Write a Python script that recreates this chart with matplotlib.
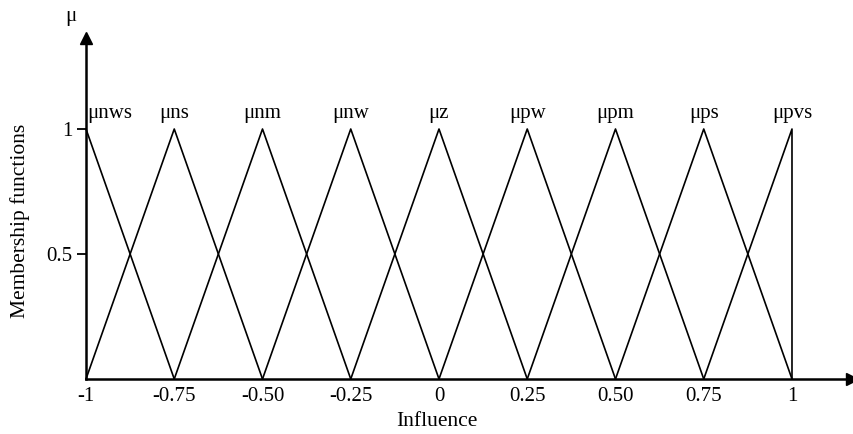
import matplotlib
matplotlib.use("Agg")
import matplotlib.pyplot as plt
import numpy as np

plt.rcParams['font.family'] = ['Liberation Serif', 'DejaVu Serif']

# Data
centers = [-1, -0.75, -0.50, -0.25, 0, 0.25, 0.50, 0.75, 1]
set_names = ['μnws', 'μns', 'μnm', 'μnw', 'μz', 'μpw', 'μpm', 'μps', 'μpvs']
x_tick_vals = [-1, -0.75, -0.50, -0.25, 0, 0.25, 0.50, 0.75, 1]
x_tick_labels = ['-1', '-0.75', '-0.50', '-0.25', '0', '0.25', '0.50', '0.75', '1']
y_tick_vals = [0.5, 1]
y_tick_labels = ['0.5', '1']

W, H = 854, 434
fig = plt.figure(figsize=(W / 100, H / 100), dpi=100)
left, right, bottom, top = 86, 852, 379, 38
ax = fig.add_axes([left / W, (H - bottom) / H, (right - left) / W, (bottom - top) / H])

xmin, xmax = -1, 1.17
ymin, ymax = 0, 1.364
ax.set_xlim(xmin, xmax)
ax.set_ylim(ymin, ymax)

FS = 15
n = len(centers)
for i, c in enumerate(centers):
    if i == 0:
        xs, ys = [c, centers[i + 1]], [1, 0]
    elif i == n - 1:
        xs, ys = [centers[i - 1], c, c], [0, 1, 0]
    else:
        xs, ys = [centers[i - 1], c, centers[i + 1]], [0, 1, 0]
    ax.plot(xs, ys, color='black', lw=1.2, clip_on=False)
    ha = 'left' if i == 0 else 'center'
    xt = c + 0.003 if i == 0 else c
    ax.text(xt, 1.044, set_names[i], ha=ha, va='baseline', fontsize=FS)

for s in ['top', 'right']:
    ax.spines[s].set_visible(False)
for s in ['left', 'bottom']:
    ax.spines[s].set_linewidth(1.8)
    ax.spines[s].set_color('black')

ax.set_xticks(x_tick_vals)
ax.set_xticklabels(x_tick_labels, fontsize=FS)
ax.set_yticks(y_tick_vals)
ax.set_yticklabels(y_tick_labels, fontsize=FS)
ax.tick_params(axis='x', length=0, pad=5.5)
ax.tick_params(axis='y', length=6.5, width=1.3, pad=3.5, direction='out')

# axis arrows
ax.plot([0], [1], marker='^', color='black', markersize=8, transform=ax.transAxes, clip_on=False)
ax.plot([1], [0], marker='>', color='black', markersize=8, transform=ax.transAxes, clip_on=False)

fig.text(71 / W, 1 - 17 / H, 'μ', ha='center', va='center', fontsize=FS)
fig.text(20 / W, 1 - 221 / H, 'Membership functions', ha='center', va='center', rotation=90, fontsize=15.5)
fig.text(437 / W, 1 - 422 / H, 'Influence', ha='center', va='center', fontsize=15.5)

fig.savefig('out.png', dpi=100)
